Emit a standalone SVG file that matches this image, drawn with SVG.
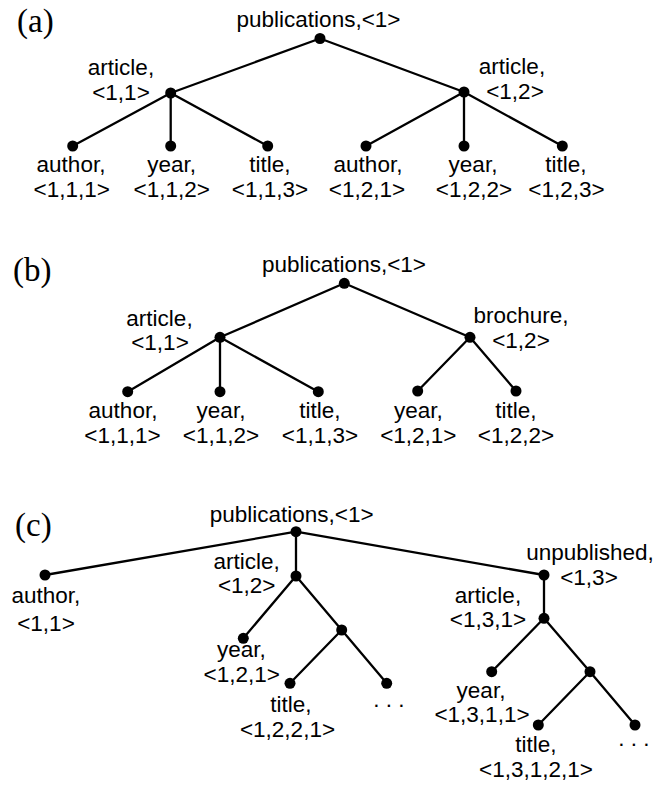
<svg xmlns="http://www.w3.org/2000/svg" width="657" height="788" viewBox="0 0 657 788">
  <style>
    .edge { stroke: #000; stroke-width: 2.3; fill: none; stroke-linecap: round; }
    .dot { fill: #000; }
    .lbl { font-family: "Liberation Sans", Arial, sans-serif; font-size: 22.5px; fill: #000; text-anchor: middle; }
    .tag { font-family: "Liberation Serif", "Times New Roman", serif; font-size: 33px; fill: #000; }
  </style>
  <rect width="657" height="788" fill="#fff"/>

  <!-- panel tags -->
  <text class="tag" x="17" y="32">(a)</text>
  <text class="tag" x="13" y="281">(b)</text>
  <text class="tag" x="15" y="536">(c)</text>

  <!-- connectors -->
  <g id="edges">
    <!-- (a) -->
    <line class="edge" x1="320" y1="38.5" x2="170.7" y2="93"/>
    <line class="edge" x1="320" y1="38.5" x2="464" y2="92"/>
    <line class="edge" x1="170.7" y1="93" x2="72.7" y2="146"/>
    <line class="edge" x1="170.7" y1="93" x2="170.7" y2="146"/>
    <line class="edge" x1="170.7" y1="93" x2="267.7" y2="146"/>
    <line class="edge" x1="464" y1="92" x2="366" y2="146"/>
    <line class="edge" x1="464" y1="92" x2="464" y2="146"/>
    <line class="edge" x1="464" y1="92" x2="562.3" y2="146"/>
    <!-- (b) -->
    <line class="edge" x1="344.3" y1="283.3" x2="220" y2="337.3"/>
    <line class="edge" x1="344.3" y1="283.3" x2="470" y2="337.3"/>
    <line class="edge" x1="220" y1="337.3" x2="127.7" y2="391.7"/>
    <line class="edge" x1="220" y1="337.3" x2="220" y2="391.7"/>
    <line class="edge" x1="220" y1="337.3" x2="318.3" y2="391.7"/>
    <line class="edge" x1="470" y1="337.3" x2="417.7" y2="391"/>
    <line class="edge" x1="470" y1="337.3" x2="516" y2="391"/>
    <!-- (c) -->
    <line class="edge" x1="296" y1="531.7" x2="45" y2="575"/>
    <line class="edge" x1="296" y1="531.7" x2="296" y2="576"/>
    <line class="edge" x1="296" y1="531.7" x2="544" y2="575"/>
    <line class="edge" x1="296" y1="576" x2="243.3" y2="638.3"/>
    <line class="edge" x1="296" y1="576" x2="341.7" y2="630"/>
    <line class="edge" x1="341.7" y1="630" x2="290" y2="683.3"/>
    <line class="edge" x1="341.7" y1="630" x2="386.7" y2="683.3"/>
    <line class="edge" x1="544" y1="575" x2="544" y2="618.3"/>
    <line class="edge" x1="544" y1="618.3" x2="491.7" y2="671.7"/>
    <line class="edge" x1="544" y1="618.3" x2="590" y2="671.7"/>
    <line class="edge" x1="590" y1="671.7" x2="538.3" y2="725"/>
    <line class="edge" x1="590" y1="671.7" x2="635" y2="725"/>
  </g>

  <!-- (a) nodes -->
  <g id="a-publications"><circle class="dot" cx="320" cy="38.5" r="5.5"/><text class="lbl" x="318.5" y="27">publications,&lt;1&gt;</text></g>
  <g id="a-article-1-1"><circle class="dot" cx="170.7" cy="93" r="5.5"/><text class="lbl" x="121" y="75">article,</text><text class="lbl" x="121" y="100">&lt;1,1&gt;</text></g>
  <g id="a-article-1-2"><circle class="dot" cx="464" cy="92" r="5.5"/><text class="lbl" x="512" y="74">article,</text><text class="lbl" x="515" y="99">&lt;1,2&gt;</text></g>
  <g id="a-author-1-1-1"><circle class="dot" cx="72.7" cy="146" r="5.5"/><text class="lbl" x="71" y="171.7">author,</text><text class="lbl" x="71.7" y="196.7">&lt;1,1,1&gt;</text></g>
  <g id="a-year-1-1-2"><circle class="dot" cx="170.7" cy="146" r="5.5"/><text class="lbl" x="171.7" y="171.7">year,</text><text class="lbl" x="171.7" y="196.7">&lt;1,1,2&gt;</text></g>
  <g id="a-title-1-1-3"><circle class="dot" cx="267.7" cy="146" r="5.5"/><text class="lbl" x="270" y="171.7">title,</text><text class="lbl" x="270" y="196.7">&lt;1,1,3&gt;</text></g>
  <g id="a-author-1-2-1"><circle class="dot" cx="366" cy="146" r="5.5"/><text class="lbl" x="368" y="171.7">author,</text><text class="lbl" x="367" y="196.7">&lt;1,2,1&gt;</text></g>
  <g id="a-year-1-2-2"><circle class="dot" cx="464" cy="146" r="5.5"/><text class="lbl" x="473" y="171.7">year,</text><text class="lbl" x="474" y="196.7">&lt;1,2,2&gt;</text></g>
  <g id="a-title-1-2-3"><circle class="dot" cx="562.3" cy="146" r="5.5"/><text class="lbl" x="566" y="171.7">title,</text><text class="lbl" x="566.5" y="196.7">&lt;1,2,3&gt;</text></g>

  <!-- (b) nodes -->
  <g id="b-publications"><circle class="dot" cx="344.3" cy="283.3" r="5.5"/><text class="lbl" x="344" y="272">publications,&lt;1&gt;</text></g>
  <g id="b-article-1-1"><circle class="dot" cx="220" cy="337.3" r="5.5"/><text class="lbl" x="159.5" y="325.5">article,</text><text class="lbl" x="160" y="349.5">&lt;1,1&gt;</text></g>
  <g id="b-brochure-1-2"><circle class="dot" cx="470" cy="337.3" r="5.5"/><text class="lbl" x="521" y="323.3">brochure,</text><text class="lbl" x="521" y="348.3">&lt;1,2&gt;</text></g>
  <g id="b-author-1-1-1"><circle class="dot" cx="127.7" cy="391.7" r="5.5"/><text class="lbl" x="123" y="418.3">author,</text><text class="lbl" x="122.5" y="443.3">&lt;1,1,1&gt;</text></g>
  <g id="b-year-1-1-2"><circle class="dot" cx="220" cy="391.7" r="5.5"/><text class="lbl" x="221" y="418.3">year,</text><text class="lbl" x="221" y="443.3">&lt;1,1,2&gt;</text></g>
  <g id="b-title-1-1-3"><circle class="dot" cx="318.3" cy="391.7" r="5.5"/><text class="lbl" x="320" y="418.3">title,</text><text class="lbl" x="320" y="443.3">&lt;1,1,3&gt;</text></g>
  <g id="b-year-1-2-1"><circle class="dot" cx="417.7" cy="391" r="5.5"/><text class="lbl" x="418.3" y="418.3">year,</text><text class="lbl" x="418.3" y="443.3">&lt;1,2,1&gt;</text></g>
  <g id="b-title-1-2-2"><circle class="dot" cx="516" cy="391" r="5.5"/><text class="lbl" x="516" y="418.3">title,</text><text class="lbl" x="516" y="443.3">&lt;1,2,2&gt;</text></g>

  <!-- (c) nodes -->
  <g id="c-publications"><circle class="dot" cx="296" cy="531.7" r="5.5"/><text class="lbl" x="291.7" y="521.7">publications,&lt;1&gt;</text></g>
  <g id="c-author-1-1"><circle class="dot" cx="45" cy="575" r="5.5"/><text class="lbl" x="45.8" y="603">author,</text><text class="lbl" x="46" y="631">&lt;1,1&gt;</text></g>
  <g id="c-article-1-2"><circle class="dot" cx="296" cy="576" r="5.5"/><text class="lbl" x="246.7" y="569.3">article,</text><text class="lbl" x="246.7" y="592.5">&lt;1,2&gt;</text></g>
  <g id="c-year-1-2-1"><circle class="dot" cx="243.3" cy="638.3" r="5.5"/><text class="lbl" x="241.3" y="657">year,</text><text class="lbl" x="241.7" y="682">&lt;1,2,1&gt;</text></g>
  <g id="c-inner-1-2-2"><circle class="dot" cx="341.7" cy="630" r="5.5"/></g>
  <g id="c-title-1-2-2-1"><circle class="dot" cx="290" cy="683.3" r="5.5"/><text class="lbl" x="291" y="711.7">title,</text><text class="lbl" x="287.5" y="737">&lt;1,2,2,1&gt;</text></g>
  <g id="c-more-1-2"><circle class="dot" cx="386.7" cy="683.3" r="5.5"/><text class="lbl" x="389" y="707">. . .</text></g>
  <g id="c-unpublished-1-3"><circle class="dot" cx="544" cy="575" r="5.5"/><text class="lbl" x="590" y="560">unpublished,</text><text class="lbl" x="589" y="585">&lt;1,3&gt;</text></g>
  <g id="c-article-1-3-1"><circle class="dot" cx="544" cy="618.3" r="5.5"/><text class="lbl" x="488" y="603.3">article,</text><text class="lbl" x="488" y="627">&lt;1,3,1&gt;</text></g>
  <g id="c-year-1-3-1-1"><circle class="dot" cx="491.7" cy="671.7" r="5.5"/><text class="lbl" x="481" y="698.3">year,</text><text class="lbl" x="482" y="722">&lt;1,3,1,1&gt;</text></g>
  <g id="c-inner-1-3-1-2"><circle class="dot" cx="590" cy="671.7" r="5.5"/></g>
  <g id="c-title-1-3-1-2-1"><circle class="dot" cx="538.3" cy="725" r="5.5"/><text class="lbl" x="536" y="751.7">title,</text><text class="lbl" x="536" y="777">&lt;1,3,1,2,1&gt;</text></g>
  <g id="c-more-1-3-1"><circle class="dot" cx="635" cy="725" r="5.5"/><text class="lbl" x="634" y="746">. . .</text></g>
</svg>
